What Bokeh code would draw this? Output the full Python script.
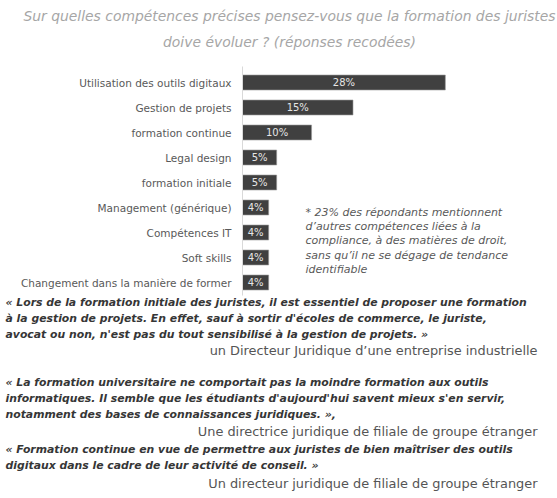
from bokeh.plotting import figure
from bokeh.models import ColumnDataSource, Range1d, Label
from bokeh.core.properties import value
from bokeh.embed import file_html
from bokeh.resources import INLINE

# ---- data ----
categories = ["Utilisation des outils digitaux", "Gestion de projets", "formation continue",
              "Legal design", "formation initiale", "Management (générique)",
              "Compétences IT", "Soft skills", "Changement dans la manière de former"]
values = [27.9, 15.2, 9.5, 4.7, 4.7, 3.6, 3.6, 3.6, 3.6]
value_labels = ["28%", "15%", "10%", "5%", "5%", "4%", "4%", "4%", "4%"]

title_lines = ["Sur quelles compétences précises pensez-vous que la formation des juristes",
               "doive évoluer ? (réponses recodées)"]
note_lines = ["* 23% des répondants mentionnent",
              "d’autres compétences liées à la",
              "compliance, à des matières de droit,",
              "sans qu’il ne se dégage de tendance",
              "identifiable"]
quotes = [
    (["« Lors de la formation initiale des juristes, il est essentiel de proposer une formation",
      "à la gestion de projets. En effet, sauf à sortir d'écoles de commerce, le juriste,",
      "avocat ou non, n'est pas du tout sensibilisé à la gestion de projets.  »"],
     "un Directeur Juridique d’une entreprise industrielle"),
    (["« La formation universitaire ne comportait pas la moindre formation aux outils",
      "informatiques. Il semble que les étudiants d'aujourd'hui savent mieux s'en servir,",
      "notamment des bases de connaissances juridiques. »,"],
     "Une directrice juridique de filiale de groupe étranger"),
    (["« Formation continue en vue de permettre aux juristes de bien maîtriser des outils",
      "digitaux dans le cadre de leur activité de conseil. »"],
     "Un directeur juridique de filiale de groupe étranger"),
]

W, H = 557, 498
px_per_unit = 7.27
x0_px = 242
row0_px, row_step = 82, 25

x_start = -x0_px / px_per_unit
x_end = (W - x0_px) / px_per_unit
y_top = (0 - row0_px) / row_step
y_bot = (H - row0_px) / row_step

p = figure(width=W, height=H, output_backend="svg", toolbar_location=None,
           x_range=Range1d(x_start, x_end), y_range=Range1d(y_bot, y_top),
           min_border=0, min_border_left=0, min_border_right=0,
           min_border_top=0, min_border_bottom=0)
p.xaxis.visible = False
p.yaxis.visible = False
p.grid.visible = False
p.outline_line_color = None
p.background_fill_color = "white"

idx = list(range(len(categories)))
src = ColumnDataSource(dict(
    y=idx, v=values, mid=[v / 2 for v in values], lab=value_labels,
    cat=categories, lx=[-11 / px_per_unit] * len(idx)))

p.hbar(y="y", left=0, right="v", height=0.6, source=src,
       fill_color="#404040", line_color="#9a9a9a", line_width=0.6)

# vertical axis line
p.segment(x0=[0], x1=[0], y0=[-0.64], y1=[8.52], line_color="#d9d9d9", line_width=1)

p.text(x="mid", y="y", text="lab", source=src, text_align="center", text_baseline="middle",
       text_color="#e6e6e6", text_font_size="10px", text_font=value("DejaVu Sans"))
p.text(x="lx", y="y", text="cat", source=src, text_align="right", text_baseline="middle",
       text_color="#595959", text_font_size="10.5px", text_font=value("DejaVu Sans"))

def add_label(txt, x, y_px, size, style, color, align="left"):
    p.add_layout(Label(x=x, y=H - y_px, x_units="screen", y_units="screen", text=txt,
                       text_font="DejaVu Sans", text_font_size=size,
                       text_font_style=style, text_color=color, text_align=align,
                       text_baseline="middle"))

add_label(title_lines[0], 289, 15, "13.9px", "italic", "#a6a6a6", "center")
add_label(title_lines[1], 289, 41, "13.9px", "italic", "#a6a6a6", "center")

for i, ln in enumerate(note_lines):
    add_label(ln, 305, 212 + 14.2 * i, "11px", "italic", "#595959")

quote_y = [[302, 318, 334], [382, 398, 414], [449, 465]]
attr_y = [350, 431, 483]
for (lines, attr), ys, ay in zip(quotes, quote_y, attr_y):
    for ln, yy in zip(lines, ys):
        add_label(ln, 5, yy, "10.85px", "bold italic", "#363636")
    add_label(attr, 537, ay, "12.9px", "normal", "#555555", "right")

open("out.html", "w").write(file_html(p, INLINE))
